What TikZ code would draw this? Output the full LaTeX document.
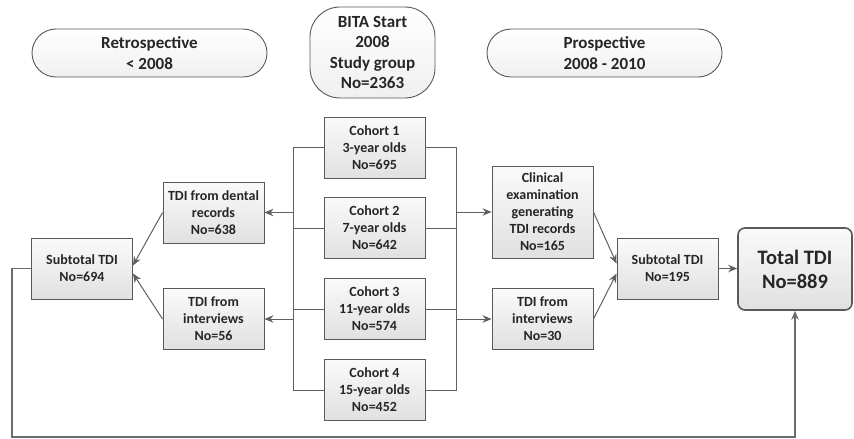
\documentclass[tikz,border=0pt]{standalone}
\usepackage{fontspec}
\setmainfont{Carlito}
\usetikzlibrary{arrows.meta,calc}
\tikzset{
    box/.style={draw=gray!70!black, line width=0.9pt, top color=gray!4,
                bottom color=gray!24, minimum width=101pt, minimum height=61pt,
                inner sep=1pt, align=center, text=black!85,
                font=\fontsize{14}{17}\selectfont\bfseries},
    pill/.style={box, rounded corners=24pt, top color=white,
                 bottom color=gray!12, minimum width=235pt, minimum height=48pt,
                 font=\fontsize{17}{20.5}\selectfont\bfseries},
    startbox/.style={pill, rounded corners=30pt, minimum width=125pt,
                     minimum height=91pt},
    totalbox/.style={box, rounded corners=7pt, line width=1.6pt,
                     minimum width=114pt, minimum height=82pt,
                     font=\fontsize{20.5}{24}\selectfont\bfseries},
    link/.style={draw=gray!75!black, line width=1pt},
    flow/.style={link, -{Stealth[length=9pt,width=7.5pt]}},
    back/.style={flow, draw=gray!85!black, line width=1.2pt},
}

\begin{document}
\begin{tikzpicture}[x=1pt, y=-1pt]
    \useasboundingbox (0,0) rectangle (854,439);

    % time line
    \node[pill] (retro) at (149.5,53) {Retrospective\\< 2008};
    \node[startbox] (start) at (372.5,52.5) {BITA Start\\2008\\Study group\\No=2363};
    \node[pill] (prosp) at (604.5,53) {Prospective\\2008 - 2010};

    % cohorts
    \node[box] (cohortone) at (374.5,147.5) {Cohort 1\\3-year olds\\No=695};
    \node[box] (cohorttwo) at (374.5,228) {Cohort 2\\7-year olds\\No=642};
    \node[box] (cohortthree) at (374.5,309) {Cohort 3\\11-year olds\\No=574};
    \node[box] (cohortfour) at (374.5,390) {Cohort 4\\15-year olds\\No=452};
    \coordinate (leftbus) at (293,0);
    \coordinate (rightbus) at (456,0);

    % retrospective side
    \node[box] (dental) at (213.5,212.5) {TDI from dental\\records\\No=638};
    \node[box] (interviewold) at (213.5,319) {TDI from\\interviews\\No=56};
    \node[box] (subold) at (82,268.5) {Subtotal TDI\\No=694};

    % prospective side
    \node[box, minimum height=92pt] (clinical) at (542.5,212)
        {Clinical\\examination\\generating\\TDI records\\No=165};
    \node[box] (interviewnew) at (542.5,319) {TDI from\\interviews\\No=30};
    \node[box] (subnew) at (667.5,268.5) {Subtotal TDI\\No=195};
    \node[totalbox] (total) at (795,269) {Total TDI\\No=889};
    \coordinate (base) at (0,437);

    \draw[link] (cohortone.west) -| (leftbus |- cohortfour.west) -- (cohortfour.west);
    \draw[link] (cohorttwo.west) -- (cohorttwo.west -| leftbus);
    \draw[link] (cohortthree.west) -- (cohortthree.west -| leftbus);
    \draw[link] (cohortone.east) -| (rightbus |- cohortfour.east) -- (cohortfour.east);
    \draw[link] (cohorttwo.east) -- (cohorttwo.east -| rightbus);
    \draw[link] (cohortthree.east) -- (cohortthree.east -| rightbus);

    \draw[flow] (dental.east -| leftbus) -- (dental.east);
    \draw[flow] (interviewold.east -| leftbus) -- (interviewold.east);
    \draw[flow] (clinical.east -| rightbus) -- (clinical.west);
    \draw[flow] (interviewnew.west -| rightbus) -- (interviewnew.west);

    \draw[flow] (dental.west) -- ([yshift=3pt]subold.east);
    \draw[flow] (interviewold.west) -- ([yshift=-5pt]subold.east);
    \draw[flow] (clinical.east) -- ([yshift=5pt]subnew.west);
    \draw[flow] (interviewnew.east) -- ([yshift=-5pt]subnew.west);
    \draw[flow] (subnew.east) -- (total.west |- subnew.east);

    \draw[back] (subold.west) -- ++(-19,0) |- (base -| total.south) -- (total.south);
\end{tikzpicture}
\end{document}
